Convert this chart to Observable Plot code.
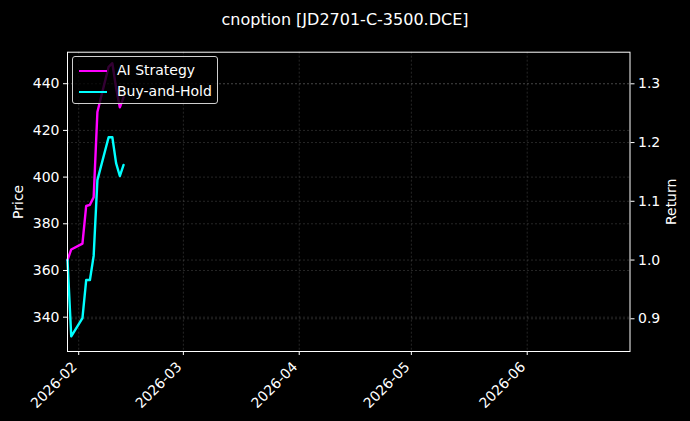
<!DOCTYPE html>
<html><head><meta charset="utf-8">
<script src="https://cdn.jsdelivr.net/npm/d3@7"></script>
<script src="https://cdn.jsdelivr.net/npm/@observablehq/plot@0.6"></script>
<style>
html,body{margin:0;padding:0;background:#000;}
#wrap{position:relative;width:690px;height:421px;background:#000;font-family:"DejaVu Sans",sans-serif;color:#fff;overflow:hidden;}
#title{height:40px;line-height:40px;text-align:center;font-size:16px;}
#legend{position:absolute;left:72px;top:56px;width:146px;height:48px;box-sizing:border-box;border:1px solid #cfcfcf;border-radius:3px;background:rgba(0,0,0,0.8);font-size:14px;}
.item{position:absolute;left:6px;height:16px;line-height:16px;white-space:nowrap;}
.sw{display:inline-block;width:28px;height:2.5px;vertical-align:middle;margin-right:10px;}
</style></head>
<body>
<div id="wrap">
  <div id="title">cnoption [JD2701-C-3500.DCE]</div>
  <div id="chart"></div>
  <div id="legend"></div>
</div>
<script>
// ---- data ----
const dates = ["2026-01-29","2026-01-30","2026-02-02","2026-02-03","2026-02-04","2026-02-05","2026-02-06","2026-02-09","2026-02-10","2026-02-11","2026-02-12","2026-02-13"];
const aiStrategy = [1.000,1.018,1.028,1.092,1.094,1.107,1.252,1.329,1.335,1.293,1.260,1.277];
const buyAndHold = [1.000,0.870,0.901,0.966,0.966,1.007,1.136,1.209,1.209,1.165,1.143,1.162];
const seriesNames = ["AI Strategy","Buy-and-Hold"];
const seriesColors = ["#ff00ff","#00ffff"];
const monthTicks = ["2026-02-01","2026-03-01","2026-04-01","2026-05-01","2026-06-01"];
const priceTicks = [340,360,380,400,420,440];
const returnTicks = [0.9,1.0,1.1,1.2,1.3];
const xDomain = ["2026-01-29T00:00Z","2026-06-28T12:00Z"];
const priceDomain = [325.3, 453.5];
const returnDomain = [0.8443, 1.3538];

// ---- build ----
const parse = s => new Date(s.length === 10 ? s + "T00:00Z" : s);
const rows = [];
[aiStrategy, buyAndHold].forEach((vals, k) => {
  vals.forEach((v, i) => rows.push({date: parse(dates[i]), value: v, series: seriesNames[k]}));
});
const toR = p => returnDomain[0] + (p - priceDomain[0]) / (priceDomain[1] - priceDomain[0]) * (returnDomain[1] - returnDomain[0]);
const toP = r => priceDomain[0] + (r - returnDomain[0]) / (returnDomain[1] - returnDomain[0]) * (priceDomain[1] - priceDomain[0]);
const months = monthTicks.map(parse);
const gridStyle = {stroke: "#ffffff", strokeOpacity: 0.25, strokeDasharray: "2,2", strokeWidth: 0.6};

const plot = Plot.plot({
  width: 690, height: 381,
  marginLeft: 67, marginRight: 60.5, marginTop: 11.7, marginBottom: 70,
  style: {background: "black", color: "white", fontFamily: "DejaVu Sans", fontSize: "14px", overflow: "visible"},
  x: {type: "utc", domain: xDomain.map(parse)},
  y: {domain: returnDomain},
  color: {domain: seriesNames, range: seriesColors},
  marks: [
    Plot.gridX(months, gridStyle),
    Plot.gridY(priceTicks.map(toR), gridStyle),
    Plot.gridY(returnTicks, gridStyle),
    Plot.line(rows.filter(d => d.series === seriesNames[0]), {x: "date", y: "value", stroke: "series", strokeWidth: 2.4}),
    Plot.line(rows.filter(d => d.series === seriesNames[1]), {x: "date", y: "value", stroke: "series", strokeWidth: 2.4}),
    Plot.frame({stroke: "white", strokeWidth: 1}),
    Plot.axisX(months, {tickFormat: () => "", label: null, tickSize: 4, stroke: "white"}),
    Plot.axisX(months, {tickRotate: -45, tickFormat: d3.utcFormat("%Y-%m"), label: null, tickSize: 0, tickPadding: 13, dx: -4}),
    Plot.axisY(priceTicks.map(toR), {anchor: "left", tickFormat: d => String(Math.round(toP(d))), label: "Price", labelAnchor: "center", labelOffset: 54, tickSize: 4, tickPadding: 4, labelArrow: "none"}),
    Plot.axisY(returnTicks, {anchor: "right", tickFormat: d3.format(".1f"), label: "Return", labelAnchor: "center", labelOffset: 46, tickSize: 4, tickPadding: 4, labelArrow: "none"})
  ]
});
document.getElementById("chart").appendChild(plot);

// legend
const leg = document.getElementById("legend");
seriesNames.forEach((n, i) => {
  const it = document.createElement("div");
  it.className = "item";
  it.style.top = (5 + i * 21) + "px";
  it.innerHTML = `<span class="sw" style="background:${seriesColors[i]}"></span>${n}`;
  leg.appendChild(it);
});
</script>
</body></html>
